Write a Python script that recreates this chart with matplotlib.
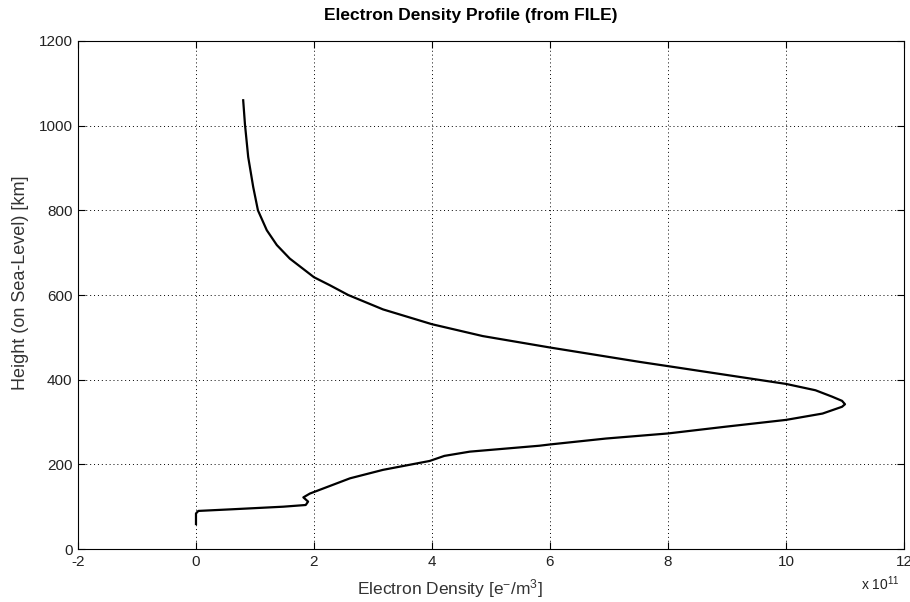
import matplotlib
matplotlib.use("Agg")
import matplotlib.pyplot as plt

# electron density profile, values in units of 1e11 e-/m^3
height_km = [59, 84, 90, 94, 100, 104, 112, 122, 131, 167, 187, 208, 220, 230,
             244, 247, 261, 273, 289, 305, 320, 336, 342, 350, 360, 375, 390,
             411, 432, 442, 476, 503, 531, 566, 600, 623, 642, 686, 718, 753,
             800, 855, 926, 1003, 1060]
density_e11 = [0.0, 0.0, 0.04, 0.63, 1.48, 1.86, 1.90, 1.82, 1.93, 2.61, 3.17,
               3.96, 4.21, 4.64, 5.82, 6.0, 6.95, 8.0, 8.98, 10.0, 10.62,
               10.95, 11.0, 10.95, 10.78, 10.5, 10.0, 9.0, 8.0, 7.52, 6.0,
               4.86, 4.0, 3.17, 2.58, 2.27, 2.0, 1.59, 1.37, 1.20, 1.05, 0.97,
               0.885, 0.83, 0.80]

xticks = [-2, 0, 2, 4, 6, 8, 10, 12]
yticks = [0, 200, 400, 600, 800, 1000, 1200]

plt.rcParams['font.family'] = ['Liberation Sans', 'DejaVu Sans']
plt.rcParams['mathtext.default'] = 'regular'
plt.rcParams['axes.unicode_minus'] = False

fig = plt.figure(figsize=(9.1, 6.02), dpi=100)
ax = fig.add_axes([0.0857, 0.088, 0.9077, 0.8439])

ax.plot(density_e11, height_km, color='black', lw=1.6)

ax.set_xlim(-2, 12)
ax.set_ylim(0, 1200)
ax.set_xticks(xticks)
ax.set_yticks(yticks)
ax.tick_params(direction='in', top=True, right=True, length=5, labelsize=11,
               labelcolor='#222222', pad=4)
ax.grid(True, color='black', linestyle=(0, (1, 3)), linewidth=0.7)

ax.set_title('Electron Density Profile (from FILE)', fontsize=12.5,
             fontweight='bold', x=0.476, pad=15)
ax.set_xlabel('Electron Density [e$^{-}$/m$^{3}$]', fontsize=12.5, color='#333333')
ax.xaxis.set_label_coords(0.45, -0.055)
ax.set_ylabel('Height (on Sea-Level) [km]', fontsize=13, color='#333333')
ax.yaxis.set_label_coords(-0.059, 0.524)
fig.text(0.946, 0.02, 'x 10$^{11}$', fontsize=10, color='#222222')

fig.savefig('out.png', dpi=100)
